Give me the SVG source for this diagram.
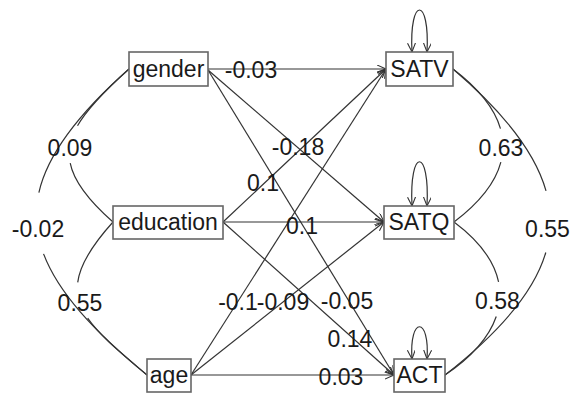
<svg xmlns="http://www.w3.org/2000/svg" width="574" height="394" viewBox="0 0 574 394">
<defs>
<marker id="ah" markerUnits="userSpaceOnUse" markerWidth="12" markerHeight="10" refX="9" refY="4" orient="auto-start-reverse">
<path d="M0,0 L9,4 L0,8" fill="none" stroke="#333" stroke-width="1.1"/>
</marker>
<style>
.node rect{fill:#fff;stroke:#666;stroke-width:1.6}
text{font-family:"Liberation Sans",Arial,sans-serif;font-size:23px;fill:#1a1a1a;text-anchor:middle}
.edge{fill:none;stroke:#333;stroke-width:1.2}
.arr{marker-end:url(#ah)}
.loop{marker-start:url(#ah);marker-end:url(#ah)}
</style>
</defs>
<rect width="574" height="394" fill="#fff"/>
<g id="connectors">
<path class="edge arr" d="M208,69 L386,69"/>
<path class="edge arr" d="M208,70 L384,222"/>
<path class="edge arr" d="M208,70 L394,375"/>
<path class="edge arr" d="M223,222 L386,69"/>
<path class="edge arr" d="M223,222 L384,222"/>
<path class="edge arr" d="M223,222 L394,375"/>
<path class="edge arr" d="M191,375 L386,69"/>
<path class="edge arr" d="M191,375 L384,222"/>
<path class="edge arr" d="M191,375 L394,375"/>
<path class="edge loop" d="M412,52 C409,-4 430,-4 427,52"/>
<path class="edge loop" d="M412,206 C409,147 430,147 427,206"/>
<path class="edge loop" d="M412,359 C409,316 430,316 427,359"/>
<path class="edge" pathLength="100" stroke-dasharray="41 16.5 100" d="M129,69 C-6,188 12,264 147,375"/>
<path class="edge" pathLength="100" stroke-dasharray="40.5 20.5 100" d="M129,69 C61,130 45,162 113,222"/>
<path class="edge" pathLength="100" stroke-dasharray="37 20 100" d="M113,222 C47,295 81,319 147,375"/>
<path class="edge" pathLength="100" stroke-dasharray="41 16.5 100" d="M453,69 C588,184 580,270 445,375"/>
<path class="edge" pathLength="100" stroke-dasharray="41 18 100" d="M453,69 C519,119 520,172 454,222"/>
<path class="edge" pathLength="100" stroke-dasharray="40 18.5 100" d="M454,222 C521,272 512,330 445,375"/>
</g>
<g id="edge-labels">
<text x="251" y="78">-0.03</text>
<text x="298" y="155">-0.18</text>
<text x="263" y="191">0.1</text>
<text x="302" y="234">0.1</text>
<text x="238" y="310">-0.1</text>
<text x="283" y="310">-0.09</text>
<text x="347" y="309">-0.05</text>
<text x="350" y="347">0.14</text>
<text x="341" y="385">0.03</text>
<text x="70" y="156">0.09</text>
<text x="38" y="237">-0.02</text>
<text x="80" y="311">0.55</text>
<text x="501" y="156">0.63</text>
<text x="497.5" y="309">0.58</text>
<text x="547.5" y="237">0.55</text>
</g>
<g id="gender" class="node"><rect x="129" y="52" width="79" height="34"/><text x="168.5" y="77">gender</text></g>
<g id="education" class="node"><rect x="113" y="206" width="110" height="33"/><text x="168" y="230">education</text></g>
<g id="age" class="node"><rect x="147" y="359" width="44" height="33"/><text x="169" y="383">age</text></g>
<g id="SATV" class="node"><rect x="386" y="52" width="67" height="34"/><text x="419.5" y="77">SATV</text></g>
<g id="SATQ" class="node"><rect x="384" y="206" width="70" height="33"/><text x="419" y="230">SATQ</text></g>
<g id="ACT" class="node"><rect x="394" y="359" width="51" height="33"/><text x="419.5" y="383">ACT</text></g>
</svg>
